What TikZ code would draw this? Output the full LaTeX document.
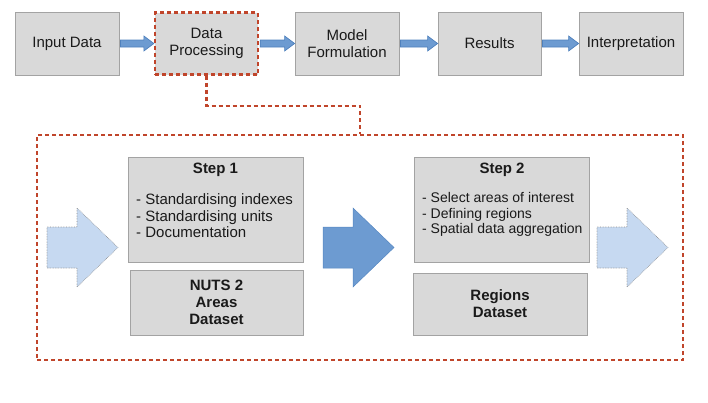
\documentclass[tikz,border=0pt]{standalone}
\usepackage{fontspec}
\setmainfont{Liberation Sans}
\usetikzlibrary{calc}
\definecolor{boxfill}{HTML}{D9D9D9}
\definecolor{boxline}{HTML}{A3A3A3}
\definecolor{redd}{HTML}{C0452B}
\definecolor{arrfill}{HTML}{6D9BD1}
\definecolor{arrline}{HTML}{4F81BD}
\definecolor{lightfill}{HTML}{C6D9F1}
\definecolor{lightline}{HTML}{8C8C8C}
\definecolor{txt}{HTML}{1A1A1A}
\newcommand\mytoparrow[2]{%
  \draw[toparr] ($(#1.east)+(1,-3.5)$) -- ($(#2.west)+(-10,-3.5)$) -- ($(#2.west)+(-10,-7.5)$)
    -- (#2.west) -- ($(#2.west)+(-10,7.5)$) -- ($(#2.west)+(-10,3.5)$) -- ($(#1.east)+(1,3.5)$) -- cycle;}
\newcommand\mybigarrow[3]{%
  \draw[#3] (#1,227) -- (#1+30,227) -- (#1+30,208) -- (#2,247.5) -- (#1+30,287) -- (#1+30,268) -- (#1,268) -- cycle;}
\begin{document}
\begin{tikzpicture}[x=1pt,y=-1pt,
  every node/.style={text=txt,font=\fontsize{15}{17}\selectfont},
  gbox/.style={draw=boxline,fill=boxfill,line width=0.8pt,inner sep=0pt,align=center},
  reddash/.style={draw=redd,line width=2.3pt,dash pattern=on 4pt off 3pt},
  toparr/.style={fill=arrfill,draw=arrline,line width=0.7pt},
  darkarr/.style={fill=arrfill,draw=arrline!80!arrfill,line width=0.5pt},
  lightarr/.style={fill=lightfill,draw=lightline,line width=0.6pt,densely dotted}]
\useasboundingbox (0,0) rectangle (708,402);
% top row
\node[gbox,minimum width=104pt,minimum height=63pt] (in) at (67,43.5) {Input Data};
\node[gbox,reddash,minimum width=103pt,minimum height=62pt] (dp) at (206.5,43.5) {Data\\Processing};
\node[gbox,minimum width=104pt,minimum height=63pt] (mf) at (347,43.5) {Model\\Formulation};
\node[gbox,minimum width=103pt,minimum height=63pt] (res) at (489.5,43.5) {Results};
\node[gbox,minimum width=104pt,minimum height=63pt] (int) at (631,43.5) {Interpretation};
\mytoparrow{in}{dp}
\mytoparrow{dp}{mf}
\mytoparrow{mf}{res}
\mytoparrow{res}{int}
% big dashed frame
\node[reddash,minimum width=646pt,minimum height=225pt,inner sep=0pt] (big) at (360,247.5) {};
\draw[reddash] (dp.south) -- ++(0,30) -| (big.north);
% step boxes
\node[gbox,minimum width=175pt,minimum height=105pt] (s1) at (215.5,209.5) {};
\node[font=\fontsize{15}{17}\selectfont\bfseries,inner sep=0pt] (s1t) at (215.5,170) {Step 1};
\node[align=left,anchor=west,inner sep=0pt,font=\fontsize{15}{16.5}\selectfont] (s1l) at (136,216) {- Standardising indexes\\- Standardising units\\- Documentation};
\node[gbox,minimum width=173pt,minimum height=65pt,font=\fontsize{15}{17}\selectfont\bfseries] (nuts) at (216.5,302.5) {NUTS 2\\Areas\\Dataset};
\node[gbox,minimum width=175pt,minimum height=105pt] (s2) at (501.5,209.5) {};
\node[font=\fontsize{15}{17}\selectfont\bfseries,inner sep=0pt] (s2t) at (502,170) {Step 2};
\node[align=left,anchor=west,inner sep=0pt,font=\fontsize{14}{15.5}\selectfont] (s2l) at (422,214.5) {- Select areas of interest\\- Defining regions\\- Spatial data aggregation};
\node[gbox,minimum width=174pt,minimum height=62pt,font=\fontsize{15}{17}\selectfont\bfseries] (reg) at (500,304) {Regions\\Dataset};
% big arrows
\mybigarrow{47}{118}{lightarr}
\mybigarrow{323}{394}{darkarr}
\mybigarrow{597}{668}{lightarr}
\end{tikzpicture}
\end{document}
